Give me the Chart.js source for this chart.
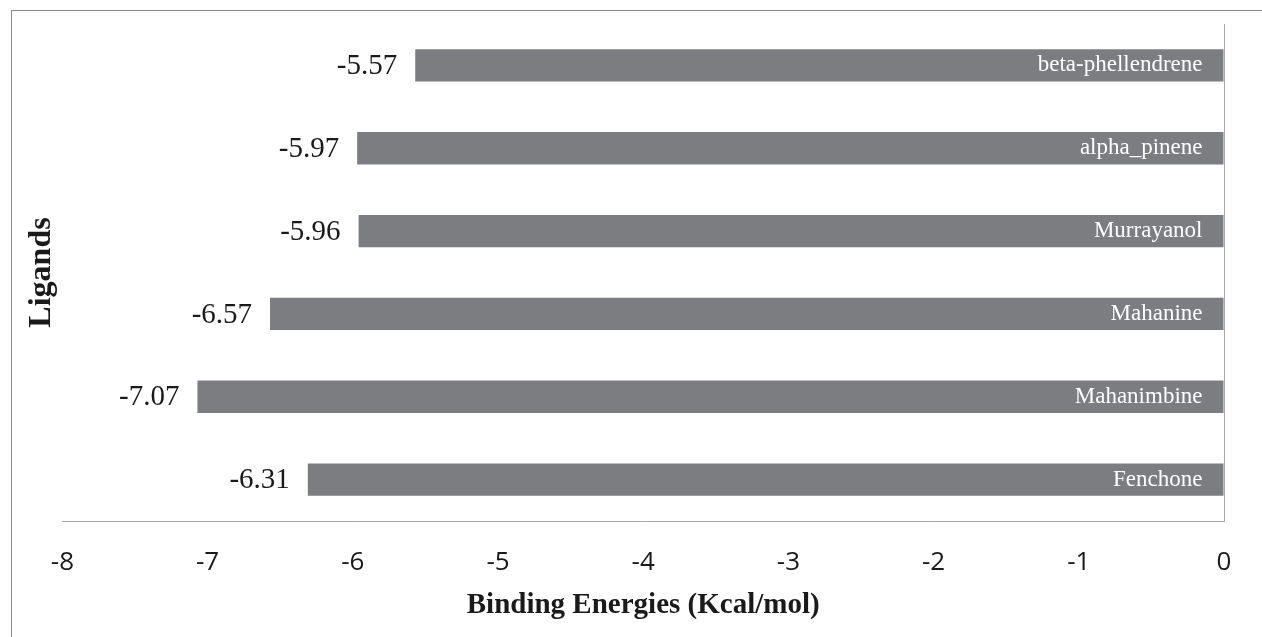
<!DOCTYPE html>
<html>
<head>
<meta charset="utf-8">
<script src="https://cdn.jsdelivr.net/npm/chart.js@4"></script>
<style>
  html, body { margin: 0; padding: 0; background: #fff; overflow: hidden; }
  #wrap { position: relative; width: 1262px; height: 637px; }
  #frame { position: absolute; left: 11px; top: 10px; width: 1300px; height: 700px;
           border-left: 1px solid #8c8c8c; border-top: 1px solid #8c8c8c; }
  canvas { position: absolute; left: 0; top: 0; }
</style>
</head>
<body>
<div id="wrap">
  <div id="frame"></div>
  <canvas id="bindingChart" width="1262" height="637"></canvas>
</div>
<script>
// ligands, top to bottom
const ligands = ['beta-phellendrene', 'alpha_pinene', 'Murrayanol', 'Mahanine', 'Mahanimbine', 'Fenchone'];
const energies = [-5.57, -5.97, -5.96, -6.57, -7.07, -6.31];
const xMin = -8;
const xMax = 0;
const xStep = 1;

const barColor = '#7c7d81';
const axisColor = '#a6a6a6';

// value labels to the left of each bar + ligand name inside the bar
const barLabels = {
    id: 'barLabels',
    afterDatasetsDraw(chart) {
        const ctx = chart.ctx;
        const meta = chart.getDatasetMeta(0);
        ctx.save();
        meta.data.forEach((bar, i) => {
            const v = chart.data.datasets[0].data[i];
            ctx.textBaseline = 'middle';
            ctx.textAlign = 'right';

            ctx.font = '29px "Liberation Serif"';
            ctx.fillStyle = '#1a1a1a';
            ctx.fillText(v.toFixed(2), bar.x - 18, bar.y + 1);

            ctx.font = '23px "Liberation Serif"';
            ctx.fillStyle = '#ffffff';
            ctx.fillText(chart.data.labels[i], bar.base - 21, bar.y);
        });
        ctx.restore();
    }
};

const ctx = document.getElementById('bindingChart').getContext('2d');
new Chart(ctx, {
    type: 'bar',
    data: {
        labels: ligands,
        datasets: [{
            data: energies,
            backgroundColor: barColor,
            borderWidth: 0,
            barPercentage: 0.39,
            categoryPercentage: 1
        }]
    },
    options: {
        indexAxis: 'y',
        responsive: false,
        animation: false,
        layout: {
            padding: { left: 22, right: 38, top: 24, bottom: 14 }
        },
        plugins: {
            legend: { display: false },
            tooltip: { enabled: false }
        },
        scales: {
            x: {
                min: xMin,
                max: xMax,
                ticks: {
                    stepSize: xStep,
                    padding: 26,
                    color: '#1a1a1a',
                    font: { family: '"Open Sans"', size: 26 }
                },
                grid: {
                    drawTicks: false,
                    color: (c) => c.tick && c.tick.value === 0 ? axisColor : 'transparent'
                },
                border: { display: true, color: axisColor, width: 1 },
                title: {
                    display: true,
                    text: 'Binding Energies (Kcal/mol)',
                    color: '#1a1a1a',
                    font: { family: '"Liberation Serif"', size: 29, weight: 'bold' },
                    padding: { top: -16, bottom: 0 }
                }
            },
            y: {
                ticks: { display: false },
                grid: { display: false, drawTicks: false },
                border: { display: false },
                title: {
                    display: true,
                    text: 'Ligands',
                    color: '#1a1a1a',
                    font: { family: '"Liberation Serif"', size: 32, weight: 'bold' },
                    padding: { top: 1, bottom: 1 }
                }
            }
        }
    },
    plugins: [barLabels]
});
</script>
</body>
</html>
